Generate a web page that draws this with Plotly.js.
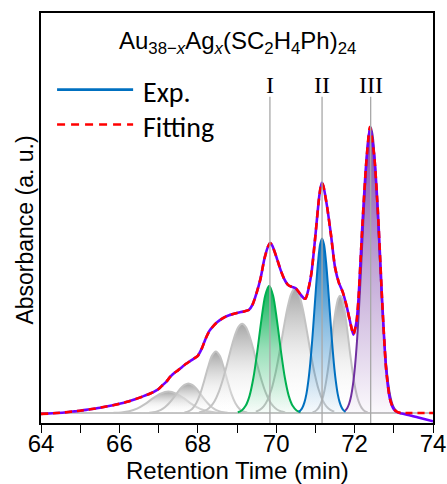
<!DOCTYPE html>
<html>
<head>
<meta charset="utf-8">
<script src="https://cdn.plot.ly/plotly-3.0.1.min.js"></script>
<style>html,body{margin:0;padding:0;background:#fff;}#chart{width:447px;height:484px;}</style>
</head>
<body>
<div id="chart"></div>
<script>
// ---- data ----
const expTime = [64.0,64.2,64.4,64.6,64.8,65.0,65.2,65.4,65.6,65.8,66.0,66.2,66.4,66.6,66.8,67.0,67.1,67.2,67.3,67.4,67.5,67.6,67.7,67.8,67.9,68.0,68.1,68.2,68.3,68.4,68.5,68.6,68.7,68.8,68.9,69.0,69.1,69.2,69.3,69.4,69.5,69.6,69.7,69.8,69.85,69.9,70.0,70.1,70.2,70.3,70.4,70.5,70.6,70.7,70.75,70.8,70.9,71.0,71.1,71.16,71.2,71.3,71.4,71.5,71.6,71.7,71.8,71.9,71.97,72.05,72.1,72.2,72.3,72.39,72.5,72.6,72.7,72.8,72.9,73.0,73.1,73.2,73.4,73.6,73.8,74.0];
const expAbs  = [-0.003,-0.002,0.000,0.002,0.005,0.008,0.012,0.016,0.021,0.026,0.032,0.039,0.048,0.058,0.069,0.084,0.097,0.110,0.127,0.140,0.150,0.161,0.172,0.181,0.190,0.200,0.225,0.260,0.288,0.305,0.318,0.328,0.336,0.342,0.346,0.350,0.353,0.356,0.360,0.380,0.420,0.470,0.540,0.585,0.594,0.585,0.548,0.505,0.470,0.448,0.441,0.436,0.418,0.402,0.400,0.420,0.490,0.620,0.760,0.805,0.795,0.720,0.620,0.510,0.455,0.422,0.372,0.310,0.274,0.320,0.400,0.660,0.880,1.000,0.900,0.690,0.400,0.160,0.050,0.013,0.002,-0.002,-0.008,-0.015,-0.022,-0.029];
const fitAbs  = [-0.003,-0.002,0.000,0.002,0.005,0.008,0.012,0.016,0.021,0.026,0.032,0.039,0.048,0.058,0.069,0.084,0.097,0.110,0.127,0.140,0.150,0.161,0.172,0.181,0.190,0.200,0.225,0.260,0.288,0.305,0.318,0.328,0.336,0.342,0.346,0.350,0.353,0.356,0.360,0.380,0.420,0.470,0.540,0.585,0.594,0.585,0.548,0.505,0.470,0.448,0.441,0.436,0.418,0.402,0.400,0.420,0.490,0.620,0.760,0.805,0.795,0.720,0.620,0.510,0.455,0.422,0.372,0.310,0.274,0.320,0.400,0.660,0.880,1.000,0.900,0.690,0.400,0.160,0.050,0.013,0.003,0.000,0.000,0.000,0.000,0.000];

// fitted component peaks (gray shoulders)
const band1Time = [65.85,66.05,66.25,66.45,66.65,66.85,67.05,67.25,67.45,67.65,67.85,68.05,68.25,68.45,68.65];
const band1Abs  = [0.0006,0.002,0.006,0.015,0.031,0.051,0.068,0.075,0.068,0.051,0.031,0.015,0.006,0.002,0.0006];
const band2Time = [66.76,66.86,66.96,67.06,67.16,67.26,67.36,67.46,67.56,67.66,67.76,67.86,67.96,68.06,68.16,68.26,68.36,68.46,68.56,68.66,68.76];
const band2Abs  = [0.001,0.0025,0.0055,0.011,0.020,0.033,0.049,0.068,0.086,0.098,0.103,0.098,0.086,0.068,0.049,0.033,0.020,0.011,0.0055,0.0025,0.001];
const band3Time = [67.66,67.76,67.86,67.96,68.06,68.16,68.26,68.36,68.46,68.56,68.66,68.76,68.86,68.96,69.06,69.16,69.26];
const band3Abs  = [0.0019,0.0057,0.015,0.034,0.066,0.111,0.160,0.200,0.215,0.200,0.160,0.111,0.066,0.034,0.015,0.0057,0.0019];
const band4Time = [68.03,68.13,68.23,68.33,68.43,68.53,68.63,68.73,68.83,68.93,69.03,69.13,69.23,69.33,69.43,69.53,69.63,69.73,69.83,69.93,70.03,70.13,70.23];
const band4Abs  = [0.0022,0.0053,0.0114,0.023,0.042,0.072,0.113,0.162,0.216,0.265,0.300,0.312,0.300,0.265,0.216,0.162,0.113,0.072,0.042,0.023,0.0114,0.0053,0.0022];
const band6Time = [69.48,69.58,69.68,69.78,69.88,69.98,70.08,70.18,70.28,70.38,70.48,70.58,70.68,70.78,70.88,70.98,71.08,71.18,71.28,71.38,71.48];
const band6Abs  = [0.0044,0.0106,0.023,0.046,0.083,0.138,0.209,0.289,0.363,0.416,0.436,0.416,0.363,0.289,0.209,0.138,0.083,0.046,0.023,0.0106,0.0044];
const band8Time = [70.93,70.98,71.03,71.08,71.13,71.18,71.23,71.28,71.33,71.38,71.43,71.48,71.53,71.58,71.63,71.68,71.73,71.78,71.83,71.88,71.93,71.98,72.03,72.08,72.13,72.18,72.23,72.28,72.33];
const band8Abs  = [0.0026,0.0052,0.010,0.018,0.031,0.050,0.078,0.116,0.162,0.215,0.271,0.325,0.370,0.400,0.410,0.400,0.370,0.325,0.271,0.215,0.162,0.116,0.078,0.050,0.031,0.018,0.010,0.0052,0.0026];
// labelled peaks I (green), II (blue), III (purple)
const peakITime  = [69.02,69.12,69.22,69.32,69.42,69.52,69.62,69.72,69.82,69.92,70.02,70.12,70.22,70.32,70.42,70.52,70.62];
const peakIAbs   = [0.0027,0.0088,0.025,0.060,0.124,0.217,0.323,0.411,0.445,0.411,0.323,0.217,0.124,0.060,0.025,0.0088,0.0027];
const peakIITime = [70.57,70.62,70.67,70.72,70.77,70.82,70.87,70.92,70.97,71.02,71.07,71.12,71.17,71.22,71.27,71.32,71.37,71.42,71.47,71.52,71.57,71.62,71.67,71.72,71.77];
const peakIIAbs  = [0.0041,0.0093,0.019,0.037,0.066,0.112,0.175,0.257,0.351,0.447,0.531,0.589,0.610,0.589,0.531,0.447,0.351,0.257,0.175,0.112,0.066,0.037,0.019,0.0093,0.0041];
const peakIIITime = [71.76,71.81,71.86,71.91,71.96,72.01,72.06,72.11,72.16,72.21,72.26,72.31,72.36,72.41,72.46,72.51,72.56,72.61,72.66,72.71,72.76,72.81,72.86,72.91,72.96,73.01,73.06];
const peakIIIAbs  = [0.0083,0.0169,0.0324,0.0588,0.1007,0.163,0.249,0.360,0.492,0.635,0.775,0.893,0.972,1.000,0.972,0.893,0.775,0.635,0.492,0.360,0.249,0.163,0.1007,0.0588,0.0324,0.0169,0.0083];

const peakLabels = ['I','II','III'];
const peakPositions = [69.84, 71.17, 72.41];
const legendNames = ['Exp.','Fitting'];
const xTitle = 'Retention Time (min)';
const yTitle = 'Absorbance (a. u.)';

// ---- styling ----
const grayLine = '#c3c3c3';
const grayScale = [[0,'rgba(255,255,255,0)'],[0.45,'rgba(230,230,230,0.6)'],[1,'rgba(158,158,158,0.92)']];
function band(x, y, line, scale) {
  return {x: x, y: y, type: 'scatter', mode: 'lines', showlegend: false, hoverinfo: 'skip',
    line: {color: line, width: 2, shape: 'spline', smoothing: 0.8},
    fill: 'tozeroy', fillgradient: {type: 'vertical', colorscale: scale}};
}
const traces = [
  band(band1Time, band1Abs, grayLine, grayScale),
  band(band2Time, band2Abs, grayLine, grayScale),
  band(band3Time, band3Abs, grayLine, grayScale),
  band(band4Time, band4Abs, grayLine, grayScale),
  band(band6Time, band6Abs, grayLine, grayScale),
  band(band8Time, band8Abs, grayLine, grayScale),
  band(peakITime, peakIAbs, '#00b050', [[0,'rgba(0,176,80,0.03)'],[0.5,'rgba(0,176,80,0.4)'],[1,'rgba(0,176,80,0.97)']]),
  band(peakIITime, peakIIAbs, '#0070c0', [[0,'rgba(0,112,192,0.03)'],[0.5,'rgba(0,112,192,0.45)'],[1,'rgba(0,112,192,0.97)']]),
  band(peakIIITime, peakIIIAbs, '#7030a0', [[0,'rgba(112,48,160,0.03)'],[0.5,'rgba(112,48,160,0.42)'],[1,'rgba(112,48,160,0.88)']]),
  {x: expTime, y: expAbs, type: 'scatter', mode: 'lines', name: legendNames[0], showlegend: false,
   line: {color: '#7000ff', width: 2.6, shape: 'spline', smoothing: 0.6}},
  {x: expTime, y: fitAbs, type: 'scatter', mode: 'lines', name: legendNames[1], showlegend: false,
   line: {color: '#ff0000', width: 2.6, dash: '7px,5px', shape: 'spline', smoothing: 0.6}}
];

const shapes = [
  {type: 'line', xref: 'paper', x0: 0, x1: 1, yref: 'y', y0: 0, y1: 0, layer: 'below',
   line: {color: '#c3c3c3', width: 2}},
  // legend samples
  {type: 'line', xref: 'paper', yref: 'paper', x0: 0.041, x1: 0.235, y0: 0.813, y1: 0.813,
   line: {color: '#0070c0', width: 2.6}},
  {type: 'line', xref: 'paper', yref: 'paper', x0: 0.041, x1: 0.235, y0: 0.728, y1: 0.728,
   line: {color: '#ff0000', width: 2.6, dash: '8px,6px'}}
];
peakPositions.forEach(function (p) {
  shapes.push({type: 'line', xref: 'x', yref: 'y', x0: p, x1: p, y0: -0.035, y1: 1.106, layer: 'above',
    line: {color: '#a8a8a8', width: 1.3}});
});

const sans = 'Liberation Sans, Arial, sans-serif';
const annotations = [
  {xref: 'paper', yref: 'paper', x: 0.5, y: 0.928, xanchor: 'center', yanchor: 'middle', showarrow: false,
   text: 'Au<sub>38−<i>x</i></sub>Ag<sub><i>x</i></sub>(SC<sub>2</sub>H<sub>4</sub>Ph)<sub>24</sub>',
   font: {family: sans, size: 24, color: '#000'}},
  {xref: 'paper', yref: 'paper', x: 0.255, y: 0.806, xanchor: 'left', yanchor: 'middle', showarrow: false,
   text: legendNames[0], font: {family: 'Carlito, Lato, sans-serif', size: 28, color: '#000'}},
  {xref: 'paper', yref: 'paper', x: 0.255, y: 0.721, xanchor: 'left', yanchor: 'middle', showarrow: false,
   text: legendNames[1], font: {family: 'Carlito, Lato, sans-serif', size: 28, color: '#000'}},
  {xref: 'paper', yref: 'paper', x: 0.5, y: -0.116, xanchor: 'center', yanchor: 'middle', showarrow: false,
   text: xTitle, font: {family: sans, size: 24, color: '#000'}},
  {xref: 'paper', yref: 'paper', x: -0.04, y: 0.47, xanchor: 'center', yanchor: 'middle', showarrow: false,
   textangle: -90, text: yTitle, font: {family: sans, size: 23, color: '#000'}}
];
peakPositions.forEach(function (p, i) {
  annotations.push({xref: 'x', yref: 'paper', x: p, y: 0.825, xanchor: 'center', yanchor: 'middle',
    showarrow: false, text: peakLabels[i],
    font: {family: 'Liberation Serif, Times New Roman, serif', size: 24, color: '#000'}});
});

const layout = {
  width: 447, height: 484,
  margin: {l: 41, r: 14, t: 13, b: 61},
  paper_bgcolor: '#fff', plot_bgcolor: '#fff',
  showlegend: false,
  font: {family: sans, color: '#000'},
  xaxis: {range: [64, 74], tick0: 64, dtick: 1, ticks: 'outside', ticklen: 8,
    tickwidth: 1.4, tickcolor: '#000000', ticklabeloverflow: 'allow', ticklabelstandoff: -10,
    ticklabelstep: 2,
    showline: true, mirror: true, linecolor: '#000000', linewidth: 1.5,
    showgrid: false, zeroline: false,
    tickfont: {size: 24, family: sans}},
  yaxis: {range: [-0.035, 1.399], showticklabels: false, ticks: '', showline: true, mirror: true,
    linecolor: '#000000', linewidth: 1.5, showgrid: false, zeroline: false},
  shapes: shapes,
  annotations: annotations
};

Plotly.newPlot('chart', traces, layout, {displayModeBar: false});
</script>
</body>
</html>
